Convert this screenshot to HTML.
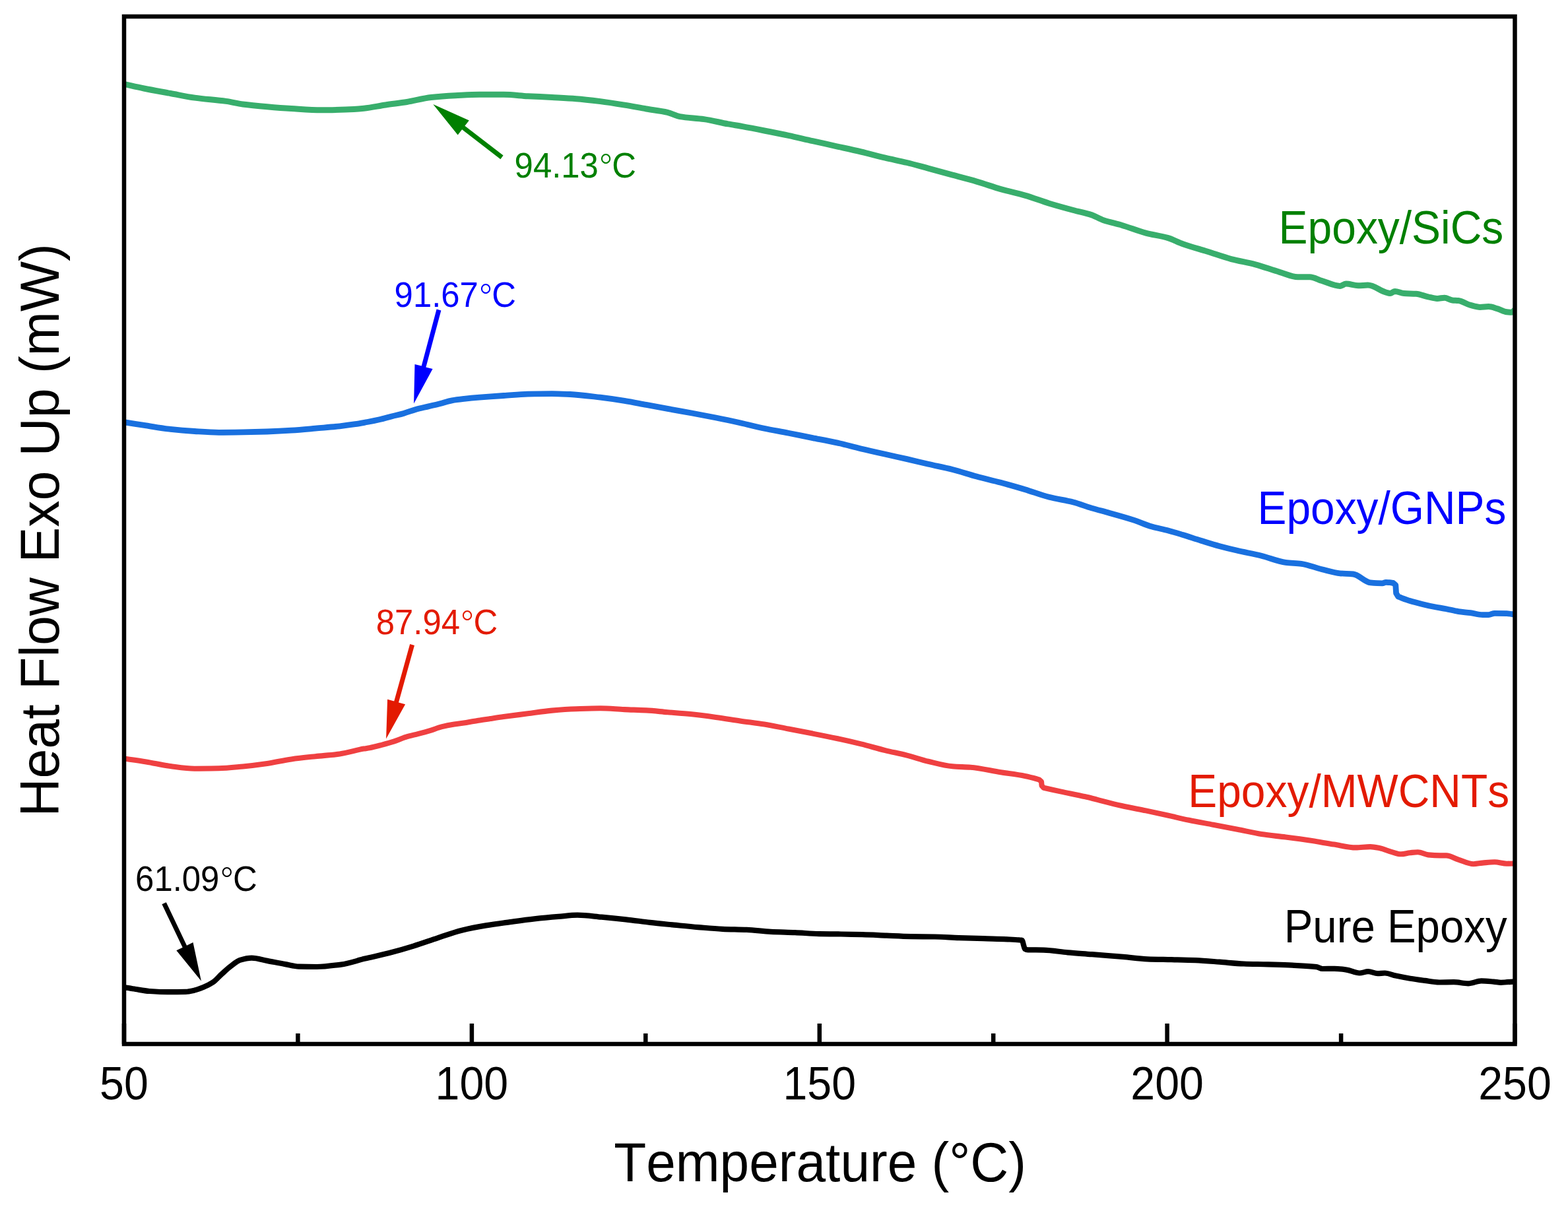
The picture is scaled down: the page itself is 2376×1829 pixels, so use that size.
<!DOCTYPE html>
<html><head><meta charset="utf-8"><title>DSC Heat Flow</title>
<style>html,body{margin:0;padding:0;background:#fff;}body{width:2376px;height:1829px;overflow:hidden;}svg{display:block;}text{font-family:'Liberation Sans', Arial, sans-serif;font-kerning:none;font-variant-ligatures:none;}</style></head><body>
<svg width="2376" height="1829" viewBox="0 0 2376 1829">
<rect width="2376" height="1829" fill="#fff"/>
<defs><clipPath id="pa"><rect x="188.0" y="25.0" width="2107.5" height="1557.0"/></clipPath></defs>
<g clip-path="url(#pa)" fill="none" stroke-width="8.6" stroke-linejoin="round" stroke-linecap="butt">
<path stroke="#38ae6c" stroke-width="9.0" d="M188.0,127.4 C198.0,129.6 208.0,132.0 218.0,134.0 C231.4,136.7 244.9,139.0 258.3,141.5 C270.5,143.7 282.7,146.4 294.9,148.1 C310.8,150.3 326.6,151.2 342.5,153.4 C351.0,154.6 359.5,156.9 368.0,158.0 C380.3,159.6 392.5,160.7 404.8,161.8 C417.0,162.9 429.2,163.9 441.4,164.6 C456.7,165.5 471.9,166.8 487.2,166.8 C499.4,166.8 511.6,166.4 523.8,166.0 C533.0,165.7 542.1,165.0 551.3,164.2 C562.3,163.2 573.3,160.6 584.3,159.0 C595.1,157.4 605.8,156.2 616.6,154.5 C628.8,152.5 641.1,148.8 653.3,147.5 C665.5,146.2 677.7,145.4 689.9,144.8 C702.1,144.2 714.3,143.3 726.5,143.3 C738.7,143.3 751.0,143.3 763.2,143.3 C775.4,143.3 787.6,145.0 799.8,145.7 C812.0,146.4 824.2,146.8 836.4,147.5 C848.6,148.2 860.8,148.8 873.0,149.7 C885.2,150.6 897.5,152.1 909.7,153.6 C921.9,155.1 934.1,157.1 946.3,159.1 C957.3,160.9 968.3,163.1 979.3,165.0 C990.1,166.8 1000.8,167.8 1011.6,170.3 C1017.7,171.7 1023.9,175.5 1030.0,176.6 C1042.2,178.7 1054.4,178.9 1066.6,180.6 C1078.8,182.3 1091.0,185.7 1103.2,187.9 C1110.5,189.2 1117.9,190.3 1125.2,191.6 C1136.2,193.6 1147.2,195.8 1158.2,198.0 C1170.4,200.4 1182.6,202.7 1194.8,205.3 C1207.0,207.9 1219.2,210.9 1231.4,213.6 C1243.6,216.3 1255.8,219.1 1268.0,221.8 C1280.2,224.5 1292.5,227.1 1304.7,230.0 C1316.9,232.9 1329.1,236.3 1341.3,239.2 C1352.3,241.8 1363.3,243.8 1374.3,246.5 C1385.1,249.1 1395.8,252.2 1406.6,255.1 C1418.8,258.4 1431.1,261.9 1443.3,265.2 C1455.5,268.5 1467.7,271.6 1479.9,275.1 C1492.1,278.6 1504.3,283.1 1516.5,286.6 C1528.7,290.1 1541.0,292.5 1553.2,296.1 C1565.4,299.6 1577.6,304.5 1589.8,308.2 C1602.0,311.9 1614.2,315.2 1626.4,318.5 C1635.6,321.0 1644.7,322.6 1653.9,325.6 C1660.0,327.6 1666.1,331.6 1672.2,333.7 C1681.4,336.8 1690.5,338.5 1699.7,341.2 C1711.9,344.8 1724.1,349.9 1736.3,353.1 C1747.3,356.0 1758.3,357.2 1769.3,360.4 C1777.0,362.6 1784.8,367.0 1792.5,369.7 C1804.7,374.0 1816.9,377.2 1829.1,381.0 C1841.3,384.8 1853.5,389.4 1865.7,392.6 C1877.9,395.8 1890.2,397.6 1902.4,400.8 C1914.6,404.0 1926.8,408.8 1939.0,412.3 C1948.2,414.9 1957.3,419.7 1966.5,419.7 C1972.6,419.7 1978.7,419.7 1984.8,419.7 C1990.9,419.7 1997.0,423.7 2003.1,425.5 C2012.3,428.3 2021.4,433.4 2030.6,433.4 C2033.6,433.4 2036.7,430.1 2039.7,430.1 C2045.8,430.1 2051.9,432.7 2058.0,432.7 C2062.9,432.7 2067.8,432.1 2072.7,432.1 C2081.8,432.1 2090.9,440.3 2100.0,443.0 C2102.1,443.6 2104.3,444.6 2106.4,444.6 C2108.8,444.6 2111.3,441.5 2113.7,441.5 C2118.3,441.5 2122.9,444.3 2127.5,444.6 C2133.6,445.0 2139.7,444.9 2145.8,445.3 C2151.9,445.7 2158.0,448.5 2164.1,449.8 C2168.7,450.8 2173.2,452.4 2177.8,452.4 C2181.5,452.4 2185.1,451.2 2188.8,451.2 C2192.8,451.2 2196.7,454.5 2200.7,454.9 C2203.8,455.2 2206.8,455.2 2209.9,455.5 C2216.0,456.1 2222.1,460.8 2228.2,462.4 C2233.1,463.7 2238.0,465.4 2242.9,465.4 C2247.2,465.4 2251.4,464.5 2255.7,464.5 C2260.3,464.5 2264.8,466.6 2269.4,467.9 C2274.0,469.2 2278.6,472.2 2283.2,472.7 C2285.6,473.0 2288.1,473.2 2290.5,473.2 C2292.3,473.2 2294.2,470.4 2296.0,469.0"/>
<path stroke="#1970df" stroke-width="8.8" d="M188.0,639.7 C199.2,641.4 210.4,643.2 221.6,644.9 C233.8,646.8 246.1,649.1 258.3,650.4 C270.5,651.7 282.7,652.7 294.9,653.5 C307.1,654.3 319.3,655.3 331.5,655.3 C343.7,655.3 356.0,655.1 368.2,654.9 C380.4,654.7 392.6,654.4 404.8,654.0 C417.0,653.6 429.2,653.0 441.4,652.2 C453.6,651.4 465.8,650.2 478.0,649.1 C490.2,648.0 502.5,647.1 514.7,645.8 C522.6,644.9 530.4,643.9 538.3,642.7 C544.4,641.8 550.5,640.6 556.6,639.5 C562.7,638.4 568.8,637.2 574.9,635.8 C581.0,634.4 587.2,632.5 593.3,630.9 C599.4,629.3 605.5,628.1 611.6,626.4 C617.7,624.7 623.8,622.1 629.9,620.4 C636.0,618.7 642.1,617.5 648.2,616.1 C654.3,614.7 660.4,613.2 666.5,611.7 C672.6,610.2 678.7,608.0 684.8,606.9 C690.9,605.8 697.1,605.1 703.2,604.4 C711.0,603.5 718.7,602.8 726.5,602.2 C738.7,601.2 751.0,600.3 763.2,599.5 C775.4,598.7 787.6,597.4 799.8,597.1 C812.0,596.8 824.2,596.6 836.4,596.6 C845.6,596.6 854.7,597.1 863.9,597.5 C879.2,598.2 894.4,600.4 909.7,602.2 C921.9,603.7 934.1,605.4 946.3,607.4 C957.3,609.2 968.3,611.4 979.3,613.4 C990.1,615.4 1000.8,617.4 1011.6,619.4 C1023.8,621.6 1036.1,623.7 1048.3,626.0 C1060.5,628.3 1072.7,630.6 1084.9,633.0 C1097.1,635.4 1109.3,638.0 1121.5,640.7 C1133.7,643.4 1146.0,646.7 1158.2,649.3 C1170.4,651.8 1182.6,653.8 1194.8,656.2 C1207.0,658.6 1219.2,661.2 1231.4,663.6 C1243.6,666.0 1255.8,668.2 1268.0,670.9 C1280.2,673.6 1292.5,677.1 1304.7,680.0 C1316.9,682.9 1329.1,685.6 1341.3,688.3 C1352.3,690.8 1363.3,693.1 1374.3,695.6 C1385.1,698.1 1395.8,700.8 1406.6,703.3 C1418.8,706.1 1431.1,708.4 1443.3,711.5 C1455.5,714.6 1467.7,718.8 1479.9,722.1 C1492.1,725.4 1504.3,728.0 1516.5,731.3 C1528.7,734.6 1541.0,738.0 1553.2,741.7 C1565.4,745.4 1577.6,750.2 1589.8,753.3 C1602.0,756.4 1614.2,757.9 1626.4,761.0 C1635.6,763.4 1644.7,767.2 1653.9,769.9 C1663.1,772.6 1672.2,774.8 1681.4,777.4 C1693.6,780.8 1705.8,784.1 1718.0,788.1 C1727.2,791.1 1736.3,795.5 1745.5,798.1 C1753.4,800.4 1761.4,801.7 1769.3,803.8 C1777.0,805.8 1784.8,808.2 1792.5,810.5 C1801.6,813.3 1810.8,816.5 1819.9,819.3 C1829.1,822.1 1838.2,825.0 1847.4,827.5 C1856.6,830.0 1865.7,832.2 1874.9,834.3 C1887.1,837.1 1899.3,839.2 1911.5,842.2 C1923.7,845.2 1936.0,850.8 1948.2,852.3 C1956.1,853.3 1964.1,853.3 1972.0,854.3 C1982.4,855.6 1992.7,860.2 2003.1,862.7 C2012.3,864.9 2021.4,868.0 2030.6,868.8 C2037.3,869.4 2044.0,869.3 2050.7,870.0 C2059.3,870.9 2067.8,882.2 2076.4,882.9 C2082.5,883.4 2088.6,883.8 2094.7,883.8 C2096.5,883.8 2098.2,882.4 2100.0,882.4 C2102.0,882.4 2104.0,882.6 2106.0,882.7 C2107.7,882.8 2109.3,883.1 2111.0,883.3 L2114.8,886.5 L2115.6,899.0 L2118.8,904.2 C2124.7,906.3 2130.7,908.7 2136.6,910.5 C2142.7,912.4 2148.9,913.9 2155.0,915.4 C2161.1,916.9 2167.2,918.3 2173.3,919.5 C2179.4,920.7 2185.5,921.5 2191.6,922.7 C2197.7,923.9 2203.8,925.7 2209.9,926.6 C2216.0,927.5 2222.1,927.9 2228.2,928.7 C2234.3,929.5 2240.4,931.6 2246.5,931.6 C2249.6,931.6 2252.6,931.6 2255.7,931.6 C2258.7,931.6 2261.8,929.3 2264.8,929.3 C2270.9,929.3 2277.1,929.4 2283.2,929.6 C2287.5,929.7 2291.7,930.8 2296.0,931.4"/>
<path stroke="#ef4041" stroke-width="8.1" d="M188.0,1149.5 C199.2,1151.1 210.4,1152.6 221.6,1154.4 C233.8,1156.4 246.1,1159.4 258.3,1161.0 C270.5,1162.6 282.7,1164.7 294.9,1164.7 C307.1,1164.7 319.3,1164.5 331.5,1164.3 C343.7,1164.1 356.0,1162.6 368.2,1161.5 C380.4,1160.4 392.6,1158.9 404.8,1157.1 C417.0,1155.3 429.2,1152.1 441.4,1150.4 C453.6,1148.7 465.8,1147.5 478.0,1146.2 C490.2,1144.9 502.5,1144.2 514.7,1142.5 C526.9,1140.8 539.1,1136.8 551.3,1134.6 C554.2,1134.1 557.1,1133.7 560.0,1133.2 C566.1,1132.1 572.2,1130.4 578.3,1128.8 C584.4,1127.2 590.5,1125.6 596.6,1123.6 C602.7,1121.6 608.8,1118.8 614.9,1116.9 C621.0,1115.0 627.2,1113.7 633.3,1112.1 C639.4,1110.5 645.5,1108.9 651.6,1107.1 C657.7,1105.3 663.8,1102.6 669.9,1101.1 C676.0,1099.6 682.1,1098.5 688.2,1097.5 C694.3,1096.5 700.4,1095.9 706.5,1094.9 C712.6,1093.9 718.7,1092.7 724.8,1091.7 C730.9,1090.7 737.1,1089.9 743.2,1089.0 C749.9,1088.0 756.5,1087.0 763.2,1086.1 C775.4,1084.4 787.6,1082.9 799.8,1081.3 C812.0,1079.7 824.2,1077.7 836.4,1076.6 C848.6,1075.5 860.8,1074.6 873.0,1074.2 C885.2,1073.8 897.5,1073.3 909.7,1073.3 C921.9,1073.3 934.1,1074.6 946.3,1075.1 C957.3,1075.6 968.3,1075.8 979.3,1076.4 C990.1,1077.0 1000.8,1078.3 1011.6,1079.2 C1023.8,1080.2 1036.1,1081.1 1048.3,1082.3 C1060.5,1083.5 1072.7,1085.2 1084.9,1086.9 C1097.1,1088.6 1109.3,1090.6 1121.5,1092.4 C1133.7,1094.2 1146.0,1095.5 1158.2,1097.5 C1170.4,1099.5 1182.6,1102.2 1194.8,1104.5 C1207.0,1106.8 1219.2,1109.2 1231.4,1111.6 C1243.6,1114.0 1255.8,1116.4 1268.0,1119.0 C1280.2,1121.6 1292.5,1124.4 1304.7,1127.4 C1316.9,1130.4 1329.1,1134.1 1341.3,1137.1 C1352.3,1139.8 1363.3,1141.8 1374.3,1144.6 C1385.1,1147.3 1395.8,1151.2 1406.6,1153.8 C1418.8,1156.7 1431.1,1160.3 1443.3,1161.3 C1452.4,1162.1 1461.6,1162.1 1470.7,1162.8 C1486.0,1164.0 1501.2,1167.9 1516.5,1170.3 C1528.7,1172.2 1541.0,1173.6 1553.2,1176.0 C1559.3,1177.2 1565.4,1178.8 1571.5,1180.5 C1572.7,1180.8 1573.8,1181.2 1575.0,1181.6 L1578.0,1184.5 L1578.6,1190.5 L1581.5,1193.8 C1590.4,1195.7 1599.2,1197.7 1608.1,1199.6 C1620.3,1202.2 1632.5,1204.5 1644.7,1207.3 C1650.8,1208.7 1656.9,1210.4 1663.0,1211.9 C1675.2,1215.0 1687.5,1218.3 1699.7,1221.0 C1711.9,1223.7 1724.1,1225.9 1736.3,1228.4 C1747.3,1230.7 1758.3,1233.1 1769.3,1235.5 C1780.1,1237.9 1790.8,1240.6 1801.6,1242.8 C1813.8,1245.3 1826.1,1247.4 1838.3,1249.7 C1850.5,1252.0 1862.7,1254.3 1874.9,1256.7 C1887.1,1259.1 1899.3,1262.1 1911.5,1264.0 C1923.7,1265.9 1936.0,1267.0 1948.2,1268.6 C1960.4,1270.2 1972.6,1271.8 1984.8,1273.6 C1997.0,1275.4 2009.2,1277.7 2021.4,1279.6 C2032.4,1281.3 2043.4,1284.4 2054.4,1284.4 C2061.7,1284.4 2069.1,1283.1 2076.4,1283.1 C2081.3,1283.1 2086.1,1284.3 2091.0,1285.3 C2097.1,1286.5 2103.1,1289.5 2109.2,1291.1 C2113.8,1292.3 2118.3,1294.3 2122.9,1294.3 C2127.5,1294.3 2132.0,1292.7 2136.6,1292.2 C2140.6,1291.8 2144.5,1291.2 2148.5,1291.2 C2153.7,1291.2 2158.9,1294.9 2164.1,1295.4 C2170.2,1296.0 2176.3,1296.4 2182.4,1296.4 C2185.5,1296.4 2188.5,1296.4 2191.6,1296.4 C2197.7,1296.4 2203.8,1300.7 2209.9,1302.6 C2217.5,1305.0 2225.2,1309.2 2232.8,1309.2 C2237.4,1309.2 2241.9,1308.0 2246.5,1307.6 C2252.6,1307.1 2258.7,1306.3 2264.8,1306.3 C2270.9,1306.3 2277.1,1308.7 2283.2,1308.7 C2287.5,1308.7 2291.7,1308.6 2296.0,1308.5"/>
<path stroke="#000000" stroke-width="8.2" d="M188.0,1496.0 C193.9,1497.0 199.7,1498.1 205.6,1499.0 C212.5,1500.1 219.3,1501.5 226.2,1502.0 C235.4,1502.6 244.5,1503.2 253.7,1503.2 C262.9,1503.2 272.0,1503.1 281.2,1502.8 C285.8,1502.7 290.3,1501.6 294.9,1500.6 C299.5,1499.6 304.0,1497.7 308.6,1495.8 C313.2,1493.9 317.8,1491.8 322.4,1488.7 C327.0,1485.7 331.5,1480.0 336.1,1475.9 C340.7,1471.8 345.2,1467.4 349.8,1464.0 C354.4,1460.6 359.0,1456.3 363.6,1454.9 C369.5,1453.1 375.5,1451.6 381.4,1451.6 C389.2,1451.6 397.0,1454.4 404.8,1455.9 C414.0,1457.6 423.1,1459.5 432.3,1461.1 C439.2,1462.3 446.0,1464.4 452.9,1464.6 C461.9,1464.9 471.0,1465.0 480.0,1465.0 C492.2,1465.0 504.4,1463.2 516.6,1461.6 C528.8,1460.0 541.1,1455.5 553.3,1452.6 C565.5,1449.7 577.7,1447.1 589.9,1444.0 C602.1,1440.9 614.3,1437.4 626.5,1433.6 C638.7,1429.8 651.0,1425.3 663.2,1421.3 C675.4,1417.3 687.6,1412.7 699.8,1409.7 C712.0,1406.7 724.2,1404.4 736.4,1402.4 C748.6,1400.4 760.8,1398.8 773.0,1397.1 C785.2,1395.4 797.5,1393.6 809.7,1392.3 C821.9,1391.0 834.1,1389.9 846.3,1388.9 C855.9,1388.1 865.4,1386.7 875.0,1386.7 C887.2,1386.7 899.4,1388.6 911.6,1389.7 C923.8,1390.8 936.1,1392.0 948.3,1393.3 C960.5,1394.6 972.7,1396.5 984.9,1397.9 C997.1,1399.3 1009.3,1400.4 1021.5,1401.6 C1033.7,1402.8 1046.0,1404.1 1058.2,1405.1 C1070.4,1406.1 1082.6,1407.3 1094.8,1407.8 C1107.0,1408.3 1119.2,1408.4 1131.4,1408.9 C1143.6,1409.4 1155.8,1411.2 1168.0,1411.8 C1180.2,1412.4 1192.5,1412.6 1204.7,1413.1 C1216.9,1413.6 1229.1,1414.9 1241.3,1415.1 C1252.3,1415.3 1263.3,1415.3 1274.3,1415.5 C1285.1,1415.7 1295.8,1415.9 1306.6,1416.2 C1318.8,1416.5 1331.1,1417.2 1343.3,1417.7 C1355.5,1418.2 1367.7,1418.9 1379.9,1419.1 C1392.1,1419.3 1404.3,1419.3 1416.5,1419.5 C1428.7,1419.7 1441.0,1420.7 1453.2,1421.1 C1465.4,1421.5 1477.6,1421.8 1489.8,1422.2 C1502.0,1422.6 1514.2,1422.8 1526.4,1423.3 C1532.5,1423.6 1538.6,1423.8 1544.7,1424.4 C1546.1,1424.5 1547.6,1424.6 1549.0,1425.0 C1549.7,1425.2 1550.3,1429.8 1551.0,1432.0 C1551.7,1434.2 1552.3,1437.6 1553.0,1438.0 C1554.5,1438.9 1556.1,1439.3 1557.6,1439.3 C1565.5,1439.5 1573.5,1439.4 1581.4,1439.6 C1593.6,1439.9 1605.8,1442.2 1618.0,1443.3 C1630.2,1444.4 1642.5,1445.2 1654.7,1446.2 C1670.3,1447.4 1686.0,1448.6 1701.6,1449.9 C1713.8,1450.9 1726.1,1452.8 1738.3,1453.3 C1750.5,1453.8 1762.7,1453.9 1774.9,1454.2 C1787.1,1454.5 1799.3,1454.7 1811.5,1455.2 C1823.7,1455.7 1836.0,1456.8 1848.2,1457.7 C1860.4,1458.6 1872.6,1460.0 1884.8,1460.5 C1897.0,1461.0 1909.2,1461.0 1921.4,1461.4 C1933.6,1461.8 1945.8,1462.1 1958.0,1462.7 C1970.2,1463.3 1982.5,1463.6 1994.7,1465.1 C1997.7,1465.5 2000.8,1468.0 2003.8,1468.0 C2009.9,1468.0 2016.0,1467.8 2022.1,1467.8 C2028.2,1467.8 2034.4,1468.7 2040.5,1469.6 C2047.0,1470.5 2053.5,1474.5 2060.0,1474.5 C2064.4,1474.5 2068.8,1472.2 2073.2,1472.2 C2078.0,1472.2 2082.7,1475.2 2087.5,1475.2 C2091.2,1475.2 2094.8,1474.5 2098.5,1474.5 C2104.0,1474.5 2109.5,1477.4 2115.0,1478.6 C2122.3,1480.2 2129.6,1481.5 2136.9,1482.7 C2144.2,1483.9 2151.6,1484.9 2158.9,1485.9 C2166.2,1486.9 2173.6,1488.5 2180.9,1488.5 C2188.2,1488.5 2195.6,1488.2 2202.9,1488.2 C2210.2,1488.2 2217.5,1490.3 2224.8,1490.3 C2231.4,1490.3 2238.0,1486.4 2244.6,1486.4 C2250.8,1486.4 2257.1,1487.1 2263.3,1487.6 C2267.0,1487.9 2270.6,1488.8 2274.3,1488.8 C2281.5,1488.8 2288.8,1487.8 2296.0,1487.3"/>
</g>
<polygon points="656.3,158.1 710.8,182.4 704.4,190.7 762.6,235.6 758.4,241.2 700.1,196.3 693.7,204.6" fill="#008000"/>
<polygon points="627.1,611.5 628.5,551.9 638.7,554.6 661.6,468.6 668.4,470.4 645.4,556.4 655.6,559.1" fill="#0000ff"/>
<polygon points="585.1,1119.4 587.1,1059.8 597.2,1062.6 621.2,976.1 628.0,977.9 604.0,1064.4 614.1,1067.3" fill="#e31a00"/>
<polygon points="304.9,1486.5 267.3,1440.2 276.7,1435.7 245.4,1370.2 251.8,1367.2 283.0,1432.7 292.5,1428.1" fill="#000000"/>
<rect x="188.0" y="25.0" width="2107.5" height="1557.0" fill="none" stroke="#000" stroke-width="6.5"/>
<line x1="188.0" y1="1551" x2="188.0" y2="1582.0" stroke="#000" stroke-width="6.5"/>
<line x1="451.4" y1="1566" x2="451.4" y2="1582.0" stroke="#000" stroke-width="6.5"/>
<line x1="714.9" y1="1551" x2="714.9" y2="1582.0" stroke="#000" stroke-width="6.5"/>
<line x1="978.3" y1="1566" x2="978.3" y2="1582.0" stroke="#000" stroke-width="6.5"/>
<line x1="1241.8" y1="1551" x2="1241.8" y2="1582.0" stroke="#000" stroke-width="6.5"/>
<line x1="1505.2" y1="1566" x2="1505.2" y2="1582.0" stroke="#000" stroke-width="6.5"/>
<line x1="1768.6" y1="1551" x2="1768.6" y2="1582.0" stroke="#000" stroke-width="6.5"/>
<line x1="2032.1" y1="1566" x2="2032.1" y2="1582.0" stroke="#000" stroke-width="6.5"/>
<line x1="2295.5" y1="1551" x2="2295.5" y2="1582.0" stroke="#000" stroke-width="6.5"/>
<text transform="translate(188.00,1666.2) scale(0.95,1)" font-size="69.8" fill="#000" text-anchor="middle">50</text>
<text transform="translate(714.88,1666.2) scale(0.95,1)" font-size="69.8" fill="#000" text-anchor="middle">100</text>
<text transform="translate(1241.75,1666.2) scale(0.95,1)" font-size="69.8" fill="#000" text-anchor="middle">150</text>
<text transform="translate(1768.62,1666.2) scale(0.95,1)" font-size="69.8" fill="#000" text-anchor="middle">200</text>
<text transform="translate(2295.50,1666.2) scale(0.95,1)" font-size="69.8" fill="#000" text-anchor="middle">250</text>
<text transform="translate(930.20,1789.9) scale(0.9525,1)" font-size="84.2" fill="#000">Temperature (°C)</text>
<text transform="translate(89,1237.61) rotate(-90) scale(0.9570,1)" font-size="84.2" fill="#000">Heat Flow Exo Up (mW)</text>
<text transform="translate(1937.59,368.9) scale(0.9447,1)" font-size="69.8" fill="#008000">Epoxy/SiCs</text>
<text transform="translate(1905.60,793.9) scale(0.9430,1)" font-size="69.8" fill="#0000ff">Epoxy/GNPs</text>
<text transform="translate(1800.29,1223) scale(0.9440,1)" font-size="69.8" fill="#e31a00">Epoxy/MWCNTs</text>
<text transform="translate(1945.63,1427.9) scale(0.9373,1)" font-size="69.8" fill="#000000">Pure Epoxy</text>
<text transform="translate(779.62,268.8) scale(0.949,1)" font-size="53.6" fill="#008000"><tspan x="0" y="0">94.13</tspan><tspan x="130.16" y="18.61" font-family="NanumGothic, 'Liberation Sans', sans-serif" font-size="70.0">°</tspan><tspan x="155.52" y="0">C</tspan></text>
<text transform="translate(597.62,464.9) scale(0.949,1)" font-size="53.6" fill="#0000ff"><tspan x="0" y="0">91.67</tspan><tspan x="130.16" y="18.61" font-family="NanumGothic, 'Liberation Sans', sans-serif" font-size="70.0">°</tspan><tspan x="155.52" y="0">C</tspan></text>
<text transform="translate(569.79,960.8) scale(0.949,1)" font-size="53.6" fill="#e31a00"><tspan x="0" y="0">87.94</tspan><tspan x="130.19" y="18.61" font-family="NanumGothic, 'Liberation Sans', sans-serif" font-size="70.0">°</tspan><tspan x="155.55" y="0">C</tspan></text>
<text transform="translate(205.12,1349.7) scale(0.949,1)" font-size="53.6" fill="#000000"><tspan x="0" y="0">61.09</tspan><tspan x="130.58" y="18.61" font-family="NanumGothic, 'Liberation Sans', sans-serif" font-size="70.0">°</tspan><tspan x="155.94" y="0">C</tspan></text>
</svg></body></html>
